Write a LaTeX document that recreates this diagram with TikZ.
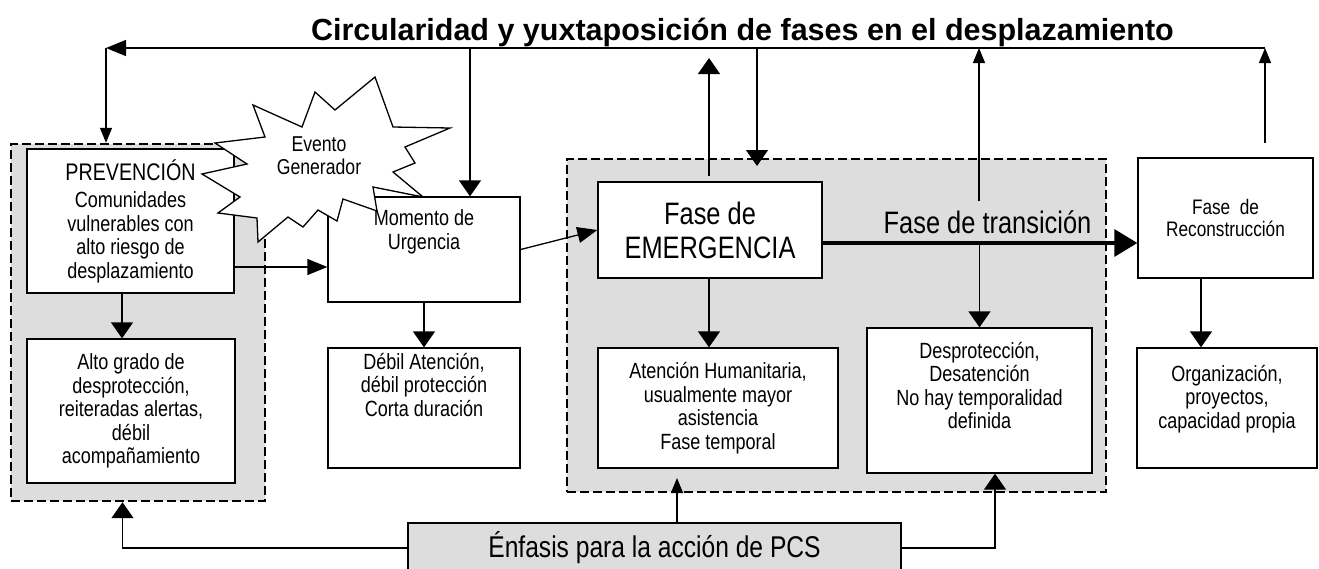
\documentclass[tikz,border=0pt]{standalone}
\usepackage{fontspec}
\setmainfont{Liberation Sans}[FakeStretch=0.82]
\newfontfamily\titlefont{Liberation Sans}
\usetikzlibrary{positioning,arrows.meta}
\definecolor{zonegray}{HTML}{DDDDDD}

\begin{document}
\begin{tikzpicture}[x=1pt, y=-1pt, line width=1.3pt,
  box/.style={draw, fill=white, inner sep=0pt, align=center},
  txt/.style={inner sep=0pt, align=center},
  zone/.style={draw, fill=zonegray, dash pattern=on 9pt off 4pt},
  arrbig/.style={-{Triangle[length=16pt,width=22pt]}},
  arrmid/.style={-{Triangle[length=20pt,width=16pt]}},
  arrsmall/.style={-{Triangle[length=15pt,width=12pt]}},
  font=\fontsize{22}{23.5}\selectfont]
				\useasboundingbox (0,0) rectangle (1319,568);

				% Zonas
				\node[zone, line width=2.4pt, minimum width=254, minimum height=357] (prevzone) at (138,322.5) {};
				\node[zone, line width=1.6pt, minimum width=539, minimum height=333] (emerzone) at (836.5,325.5) {};

				% Title
				\node[anchor=base, font=\titlefont\bfseries\fontsize{30.5}{34}\selectfont] (title) at (742.5,40) {Circularidad y yuxtaposición de fases en el desplazamiento};

				% Prevencion
				\node[box, minimum width=207, minimum height=144] (prev) at (130.5,221) {{\fontsize{24}{29}\selectfont PREVENCIÓN}\\[4pt] Comunidades\\ vulnerables con\\ alto riesgo de\\ desplazamiento};
				\node[box, minimum width=208, minimum height=144] (alto) at (131,411) {Alto grado de\\ desprotección,\\ reiteradas alertas,\\ débil\\ acompañamiento};

				% Urgencia
				\node[box, minimum width=192, minimum height=105] (mom) at (424,249.5) {};
				\node[txt, below=13pt of mom.north] (momtext) {Momento de\\ Urgencia};
				\node[box, minimum width=192, minimum height=120] (debil) at (424,408) {};
				\node[txt, below=5pt of debil.north] (debiltext) {Débil Atención,\\ débil protección\\ Corta duración};

				% Emergencia
				\node[box, minimum width=224, minimum height=96, font=\fontsize{31}{34}\selectfont] (emer) at (710,230) {Fase de\\ EMERGENCIA};
				\node[box, minimum width=240, minimum height=120] (aten) at (718,408) {Atención Humanitaria,\\ usualmente mayor\\ asistencia\\ Fase temporal};
				\node[box, minimum width=225, minimum height=145] (desp) at (979.5,400.5) {};
				\node[txt, below=14pt of desp.north] (desptext) {Desprotección,\\ Desatención\\ No hay temporalidad\\ definida};
				\node[anchor=base west, inner sep=0pt, font=\fontsize{31}{34}\selectfont] (trans) at (883,233) {Fase de transición};

				% Reconstruccion
				\node[box, minimum width=175, minimum height=120, font=\fontsize{21}{22}\selectfont] (recon) at (1225.5,218) {Fase~~de\\ Reconstrucción};
				\node[box, minimum width=180, minimum height=120] (org) at (1227,408) {};
				\node[txt, below=17pt of org.north] (orgtext) {Organización,\\ proyectos,\\ capacidad propia};

				% Enfasis
				\node[box, fill=zonegray, minimum width=493, minimum height=50, font=\fontsize{30}{34}\selectfont] (enf) at (654.5,548) {Énfasis para la acción de PCS};

				% Evento generador
				\draw[fill=white] (253,105) -- (302,127) -- (315,92) -- (335,110) -- (375,77) -- (393,127)
					-- (450,128) -- (405,147) -- (415,163) -- (393,172) -- (423,197) -- (373,187)
					-- (377,211) -- (343,199) -- (337,221) -- (318,210) -- (303,227) -- (288,217)
					-- (258,242) -- (257,218) -- (218,213) -- (240,197) -- (202,174) -- (247,164)
					-- (215,143) -- (265,137) -- cycle;
				\node[txt, font=\fontsize{21.5}{23}\selectfont] (evento) at (319,156) {Evento\\ Generador};

				% Circularidad
				\coordinate (tl) at (106,48);
				\coordinate (tr) at (1265,48);
				\coordinate (reconup) at (1265,143);
				\coordinate (emerup) at (709,58);
				\coordinate (transup) at (979,201);
				\coordinate (enfup) at (677,478);
				\draw[arrsmall] (reconup) -- (tr);
				\draw[arrmid] (tr) -- (tl);
				\draw[arrsmall] (tl) -- (tl |- prevzone.north);
				\draw[arrbig] (470,48) -- (470,48 |- mom.north);
				\draw[arrbig] ([xshift=-1pt,yshift=5pt]emer.north) -- (emerup);
				\draw[arrbig] (757,48) -- (757,166);
				\draw[arrsmall] (transup) -- (transup |- tr);

				% Flujo
				\draw[arrmid] ([yshift=-46pt]prev.east) -- ([yshift=-17.5pt]mom.west);
				\draw[arrmid] (mom.east) -- (emer.west);
				\draw[line width=3.3pt, -{Triangle[length=23pt,width=27pt]}] ([yshift=-13pt]emer.east) -- ([yshift=-13pt]emer.east -| recon.west);
				\draw[arrbig] ([yshift=-13pt]emer.east -| desp.north) -- (desp.north);
				\draw[arrbig] ([xshift=-8.5pt]prev.south) -- ([xshift=-8.5pt]prev.south |- alto.north);
				\draw[arrbig] (mom.south) -- (debil.north);
				\draw[arrbig] ([xshift=-1pt]emer.south) -- ([xshift=-1pt]emer.south |- aten.north);
				\draw[arrbig] ([xshift=-24.5pt]recon.south) -- ([xshift=-24.5pt]recon.south |- org.north);

				% Enfasis PCS
				\draw[arrbig] (enf.west) -| ([xshift=-15.5pt]prevzone.south);
				\draw[arrsmall] (enfup |- enf.north) -- (enfup);
				\draw[arrbig] (enf.east) -| ([xshift=15.5pt]desp.south);
			\end{tikzpicture}
\end{document}
